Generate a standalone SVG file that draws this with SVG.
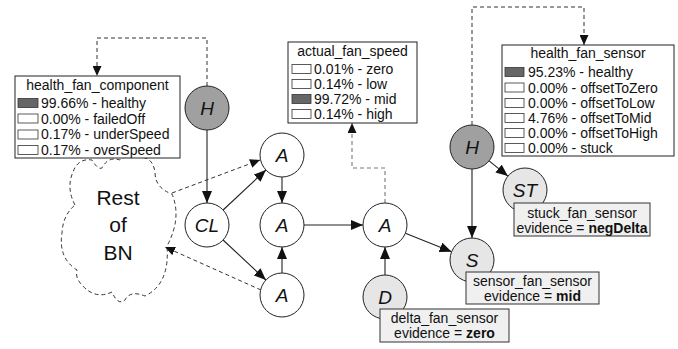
<svg xmlns="http://www.w3.org/2000/svg" width="678" height="349" viewBox="0 0 678 349">
<defs>
<marker id="arr" markerUnits="userSpaceOnUse" markerWidth="12" markerHeight="10" refX="12" refY="5" orient="auto">
<path d="M0,0 L12,5 L0,10 z" fill="#111"/>
</marker>
<marker id="arrs" markerUnits="userSpaceOnUse" markerWidth="10" markerHeight="9" refX="10" refY="4.5" orient="auto">
<path d="M0,0 L10,4.5 L0,9 z" fill="#111"/>
</marker>
</defs>
<style>
text{font-family:"Liberation Sans",Arial,sans-serif;fill:#111}
.t{font-size:14px}
.m{text-anchor:middle}
.nl{font-size:19px;font-style:italic;text-anchor:middle}
.cloudt{font-size:21px;text-anchor:middle}
.box{fill:#fff;stroke:#222;stroke-width:1}
.lbl{fill:#f0f0f0;stroke:#333;stroke-width:1}
.sw{fill:#fff;stroke:#333;stroke-width:0.8}
.swd{fill:#666;stroke:#333;stroke-width:0.8}
.n{stroke:#222;stroke-width:1}
.w{fill:#fff}
.dk{fill:#a0a0a0}
.lt{fill:#e6e6e6}
.c{fill:none;stroke:#222;stroke-width:1.1;marker-end:url(#arr)}
.d{fill:none;stroke:#333;stroke-width:1;stroke-dasharray:4 3;marker-end:url(#arrs)}
.dg{fill:none;stroke:#777;stroke-width:1.1;stroke-dasharray:4 3;marker-end:url(#arrs)}
</style>
<rect width="678" height="349" fill="#fff"/>

<g id="cloud">
<path d="M75,205 Q66,188 73,172 Q78,158 92,160 Q98,170 102,168 Q108,156 120,160 Q130,152 145,158 Q153,160 155,172 Q155,188 172,194 Q182,218 167,246 Q170,284 145,296 Q130,290 125,300 Q118,306 112,292 Q95,300 82,285 Q75,278 77,270 Q58,258 62,233 Q63,215 75,205 Z" fill="#fff" stroke="#333" stroke-width="1" stroke-dasharray="4 3"/>
<text class="cloudt" x="118" y="205">Rest</text>
<text class="cloudt" x="118" y="232">of</text>
<text class="cloudt" x="118" y="260">BN</text>
</g>

<g id="connectors">
<path class="d" d="M207,86 V38 H97 V76"/>
<path class="d" d="M472,125 V7 H584 V45"/>
<path class="dg" d="M385,203 V168 H352 V123"/>
<path class="d" d="M172,193 L260,160"/>
<path class="d" d="M261,290 L165,247"/>
<path class="c" d="M207,130 L207,203"/>
<path class="c" d="M223.1,210 L265.9,170"/>
<path class="c" d="M223.1,240 L265.9,280"/>
<path class="c" d="M282,177 L282,203"/>
<path class="c" d="M282,273 L282,247"/>
<path class="c" d="M304,225 L363,225"/>
<path class="c" d="M405.4,233.2 L451.6,251.8"/>
<path class="c" d="M385,275 L385,247"/>
<path class="c" d="M472,169 L472,238"/>
<path class="c" d="M489.1,160.9 L507.9,176.1"/>
</g>

<g id="health_fan_component">
<rect class="box" x="15" y="76" width="165" height="82"/>
<text class="t m" x="97.5" y="90">health_fan_component</text>
<rect class="swd" x="18" y="98.5" width="20" height="9"/>
<text class="t" x="41" y="108">99.66% - healthy</text>
<rect class="sw" x="18" y="114" width="20" height="9"/>
<text class="t" x="41" y="123.5">0.00% - failedOff</text>
<rect class="sw" x="18" y="130" width="20" height="9"/>
<text class="t" x="41" y="139">0.17% - underSpeed</text>
<rect class="sw" x="18" y="145.5" width="20" height="9"/>
<text class="t" x="41" y="155">0.17% - overSpeed</text>
</g>

<g id="actual_fan_speed">
<rect class="box" x="288" y="42" width="129" height="81"/>
<text class="t m" x="352.5" y="56">actual_fan_speed</text>
<rect class="sw" x="292" y="64.5" width="19" height="9"/>
<text class="t" x="314" y="74">0.01% - zero</text>
<rect class="sw" x="292" y="79.5" width="19" height="9"/>
<text class="t" x="314" y="89">0.14% - low</text>
<rect class="swd" x="292" y="94.5" width="19" height="9"/>
<text class="t" x="314" y="104">99.72% - mid</text>
<rect class="sw" x="292" y="109.5" width="19" height="9"/>
<text class="t" x="314" y="119">0.14% - high</text>
</g>

<g id="health_fan_sensor">
<rect class="box" x="502" y="45" width="172" height="111"/>
<text class="t m" x="588" y="58">health_fan_sensor</text>
<rect class="swd" x="505" y="67.5" width="19" height="9"/>
<text class="t" x="528" y="77">95.23% - healthy</text>
<rect class="sw" x="505" y="83" width="19" height="9"/>
<text class="t" x="528" y="92.5">0.00% - offsetToZero</text>
<rect class="sw" x="505" y="98.5" width="19" height="9"/>
<text class="t" x="528" y="108">0.00% - offsetToLow</text>
<rect class="sw" x="505" y="113.5" width="19" height="9"/>
<text class="t" x="528" y="123">4.76% - offsetToMid</text>
<rect class="sw" x="505" y="128.5" width="19" height="9"/>
<text class="t" x="528" y="138">0.00% - offsetToHigh</text>
<rect class="sw" x="505" y="143.5" width="19" height="9"/>
<text class="t" x="528" y="153">0.00% - stuck</text>
</g>

<g id="H1"><circle class="n dk" cx="207" cy="108" r="22"/><text class="nl" x="207" y="115">H</text></g>
<g id="CL"><circle class="n w" cx="207" cy="225" r="22"/><text class="nl" x="207" y="232">CL</text></g>
<g id="A_top"><circle class="n w" cx="282" cy="155" r="22"/><text class="nl" x="282" y="162">A</text></g>
<g id="A_mid"><circle class="n w" cx="282" cy="225" r="22"/><text class="nl" x="282" y="232">A</text></g>
<g id="A_bot"><circle class="n w" cx="282" cy="295" r="22"/><text class="nl" x="282" y="302">A</text></g>
<g id="A_right"><circle class="n w" cx="385" cy="225" r="22"/><text class="nl" x="385" y="232">A</text></g>
<g id="H2"><circle class="n dk" cx="472" cy="147" r="22"/><text class="nl" x="472" y="154">H</text></g>

<g id="ST">
<circle class="n lt" cx="525" cy="190" r="22"/><text class="nl" x="525" y="197">ST</text>
<rect class="lbl" x="514" y="203" width="136" height="33"/>
<text class="t m" x="582" y="218">stuck_fan_sensor</text>
<text class="t m" x="582" y="233">evidence = <tspan font-weight="bold">negDelta</tspan></text>
</g>

<g id="S">
<circle class="n lt" cx="472" cy="260" r="22"/><text class="nl" x="472" y="267">S</text>
<rect class="lbl" x="466" y="272" width="133" height="32"/>
<text class="t m" x="532.5" y="286">sensor_fan_sensor</text>
<text class="t m" x="532.5" y="301">evidence = <tspan font-weight="bold">mid</tspan></text>
</g>

<g id="D">
<circle class="n lt" cx="385" cy="297" r="22"/><text class="nl" x="385" y="304">D</text>
<rect class="lbl" x="380" y="309" width="129" height="33"/>
<text class="t m" x="444.5" y="323">delta_fan_sensor</text>
<text class="t m" x="444.5" y="338">evidence = <tspan font-weight="bold">zero</tspan></text>
</g>
</svg>
